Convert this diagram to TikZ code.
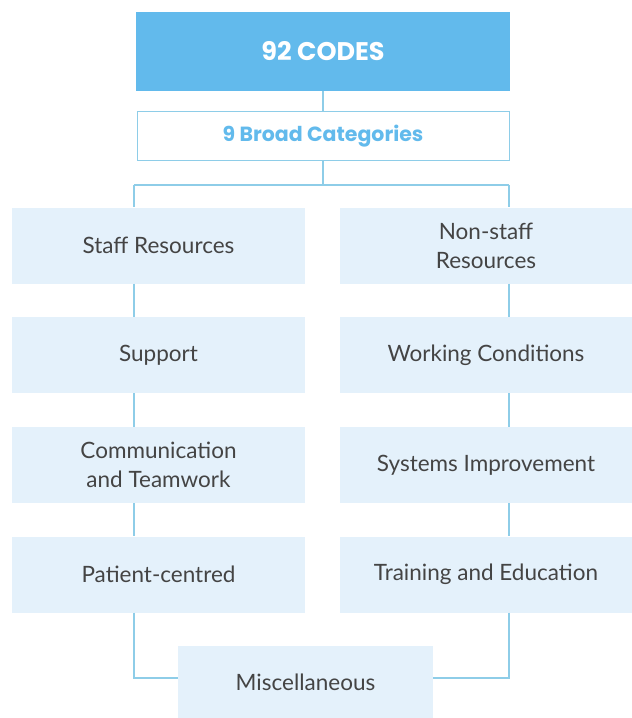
\documentclass[tikz,border=0pt]{standalone}
\usepackage{fontspec}
\setmainfont{Lato}
\newfontfamily\headfont{Poppins}
\definecolor{topblue}{HTML}{62BAEC}
\definecolor{boxfill}{HTML}{E4F1FB}
\definecolor{linec}{HTML}{8ECDE8}
\definecolor{txt}{HTML}{444444}
\tikzset{
  catbox/.style={fill=boxfill, draw=none, minimum width=293pt, minimum height=76pt,
    align=center, font=\fontsize{22.5}{29}\selectfont, text=txt, inner sep=0pt},
  conn/.style={draw=linec, line width=1.4pt},
}
\begin{document}
\begin{tikzpicture}[x=1pt,y=-1pt]
\useasboundingbox (0,0) rectangle (632,718);
\coordinate (lx) at (134,0);
\coordinate (rx) at (509,0);
\node[fill=topblue, minimum width=374pt, minimum height=79pt, inner sep=0pt,
  text=white, font=\headfont\bfseries\fontsize{25.5}{30}\selectfont] (top) at (323,51.5) {92 CODES};
\node[fill=white, draw=linec, line width=1pt, minimum width=372pt, minimum height=49pt, inner sep=0pt,
  text=topblue, font=\headfont\bfseries\fontsize{20.5}{24}\selectfont] (broad) at (323,136) {9 Broad Categories};
\coordinate (bus) at (323,185);
\node[catbox] (sr) at (158.5,245.5) {Staff Resources};
\node[catbox] (ns) at (486,245.5) {Non-staff\\Resources};
\node[catbox] (su) at (158.5,355) {Support};
\node[catbox] (wc) at (486,355) {Working Conditions};
\node[catbox] (ct) at (158.5,465) {Communication\\and Teamwork};
\node[catbox] (si) at (486,465) {Systems Improvement};
\node[catbox] (pc) at (158.5,574.5) {Patient-centred};
\node[catbox] (te) at (486,574.5) {Training and Education};
\node[catbox, minimum width=255pt, minimum height=72pt] (mi) at (305.5,682) {Miscellaneous};
\draw[conn] (top.south) -- (broad.north);
\draw[conn] (broad.south) -- (bus);
\draw[conn] (lx |- bus) -- (rx |- bus);
\draw[conn] (lx |- bus) -- (lx |- sr.north);
\draw[conn] (rx |- bus) -- (rx |- ns.north);
\draw[conn] (lx |- sr.south) -- (lx |- su.north);
\draw[conn] (lx |- su.south) -- (lx |- ct.north);
\draw[conn] (lx |- ct.south) -- (lx |- pc.north);
\draw[conn] (rx |- ns.south) -- (rx |- wc.north);
\draw[conn] (rx |- wc.south) -- (rx |- si.north);
\draw[conn] (rx |- si.south) -- (rx |- te.north);
\draw[conn] (lx |- pc.south) |- ([yshift=4pt]mi.west);
\draw[conn] (rx |- te.south) |- ([yshift=4pt]mi.east);
\end{tikzpicture}
\end{document}
